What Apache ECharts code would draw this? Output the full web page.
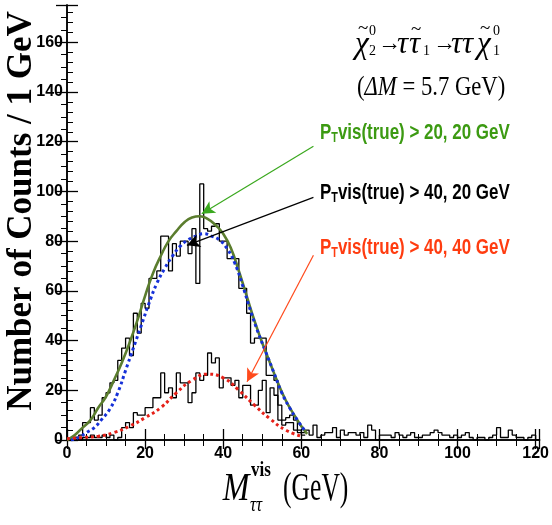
<!DOCTYPE html>
<html><head><meta charset="utf-8">
<script src="https://cdn.jsdelivr.net/npm/echarts@6/dist/echarts.min.js"></script>
<style>html,body{margin:0;padding:0;background:#fff}#c{width:552px;height:525px}</style>
</head><body><div id="c"></div>
<script>
// Bin values (1 GeV bins starting at 0 GeV)
const histUpper = [0,0,1,2,7,7,13,8,10,17,19,23,24,32,37,41,34,51,43,55,53,65,65,68,82,82,68,79,74,80,80,75,85,63,103,85,84,86,87,80,80,73,73,73,61,61,51,39,41,41,41,26,26,24,14,8,9,10,8,4,3,
  4,2,6,1,2,3,3,5,1,4,2,3,3,2,3,1,6,4,0,2,2,2,1,3,2,1,2,3,1,1,2,2,3,4,3,2,2,1,2,1,2,3,1,0,1,1,0,1,2,5,1,1,4,2,1,1,0,1,2,0];
const histLower = [0,1,1,0,1,1,2,1,1,2,1,2,0,1,5,7,5,11,10,10,13,13,17,17,27,19,21,17,27,23,23,15,19,27,24,26,35,31,33,21,25,25,22,24,17,22,22,14,14,20,24,11,21,18,8,6,7,7,4,3,2];
// Fit curves: [x, y]
const curveGreen = [[0,0],[2,2],[4,5],[6,8],[8,13],[10,17.5],[12,24],[14,31],[16,39],[18,48],[20,58],[22,67],[24,74],[26,80],[28,84],[30,87.5],[32,89.5],[34,90],[36,89],[38,86.5],[40,83],[42,77],[44,68],[46,58],[48,48],[50,39],[52,31],[54,23],[56,16],[58,10.5],[60,5.5],[61.5,2.5]];
const curveBlue = [[1,0],[3,1],[5,3],[7,5],[9,8.5],[11,12.5],[13,19],[15,28],[17,37],[19,46],[21,55],[23,63],[25,69],[27,74],[29,78],[31,80.5],[33,82],[35,83],[37,82],[39,80.5],[41,77],[43,71],[45,62],[47,52],[49,43],[51,35],[53,27],[55,19],[57,13],[59,8],[61,3.5]];
const curveRed = [[0,0.5],[4,1],[8,1.5],[12,3],[16,5.5],[20,9],[24,13],[28,19],[32,24],[36,26.5],[40,25],[44,20],[48,14],[52,8.5],[56,4],[60,1.5]];
const xTicks = [0,20,40,60,80,100,120];
const yTicks = [0,20,40,60,80,100,120,140,160];
// Annotation arrows: [start, end] in data coordinates
const arrowGreen = [[63.1,118.2],[34.5,91]];
const arrowBlack = [[63.1,97.6],[30.7,78.3]];
const arrowRed = [[63.1,74.3],[46.1,23.4]];
const labels = ['20, 20 GeV','40, 20 GeV','40, 40 GeV'];

function stepData(h){ const d = h.map((v,i)=>[i,v]); d.push([h.length, h[h.length-1]]); return d; }

const chart = echarts.init(document.getElementById('c'));
const sans = "'Liberation Sans',Arial,sans-serif";
const serif = "'Liberation Serif','DejaVu Serif',serif";
const axisCommon = {
  min:0, axisLine:{show:true, lineStyle:{color:'#000', width:1.5}},
  splitLine:{show:false},
  axisTick:{inside:true, length:11, lineStyle:{color:'#000', width:1.3}},
  minorTick:{show:true, length:6, lineStyle:{color:'#000', width:1}}
};
function arrowLine(a,color){
  const ls = {color:color, width:1.2, type:'solid'};
  return [{coord:a[0], lineStyle:ls, itemStyle:{color:color}}, {coord:a[1], lineStyle:ls, itemStyle:{color:color}}];
}
function t(x,y,text,font,extra){ return Object.assign({type:'text', x:x, y:y, style:{text:text, font:font, fill:'#000', textVerticalAlign:'middle'}}, extra||{}); }
function sel(y,label,color){
  return {type:'text', x:320, y:y, scaleX:0.77, style:{text:'{p|P}{s|T}{p|vis(true) > '+label+'}', textVerticalAlign:'middle',
    rich:{p:{fontFamily:sans, fontWeight:'bold', fontSize:22, fill:color}, s:{fontFamily:sans, fontWeight:'bold', fontSize:14, fill:color, padding:[11,0,0,0]}}}};
}
chart.setOption({
  animation:false,
  grid:{left:67, right:11, top:5, bottom:85},
  xAxis:[
    Object.assign({}, axisCommon, {type:'value', max:121, interval:20, minorTick:Object.assign({}, axisCommon.minorTick, {splitNumber:4}),
      axisLabel:{show:true, showMaxLabel:false, margin:6, color:'#000', fontFamily:sans, fontWeight:'bold', fontSize:16,
        formatter:v=> xTicks.indexOf(v)>=0 ? String(v) : ''}}),
    Object.assign({}, axisCommon, {type:'value', position:'top', max:121, interval:20, minorTick:Object.assign({}, axisCommon.minorTick, {splitNumber:4}), axisTick:{inside:true,length:9,lineStyle:{color:'#000',width:1.3}}, axisLabel:{show:false}})
  ],
  yAxis:[
    Object.assign({}, axisCommon, {type:'value', max:175, interval:20, minorTick:Object.assign({}, axisCommon.minorTick, {splitNumber:5}),
      axisLabel:{show:true, showMaxLabel:false, margin:4, color:'#000', fontFamily:sans, fontWeight:'bold', fontSize:16,
        formatter:v=> yTicks.indexOf(v)>=0 ? String(v) : ''}}),
    Object.assign({}, axisCommon, {type:'value', position:'right', max:175, interval:20, minorTick:Object.assign({}, axisCommon.minorTick, {splitNumber:4}), axisLabel:{show:false}})
  ],
  series:[
    {type:'line', step:'end', data:stepData(histUpper), symbol:'none', lineStyle:{color:'#000', width:1.3}, z:2},
    {type:'line', step:'end', data:stepData(histLower), symbol:'none', lineStyle:{color:'#000', width:1.3}, z:2},
    {type:'line', smooth:true, data:curveGreen, symbol:'none', lineStyle:{color:'#5b7d2e', width:2.6}, z:3},
    {type:'line', smooth:true, data:curveBlue, symbol:'none', lineStyle:{color:'#1530d8', width:3, type:[3,3]}, z:4},
    {type:'line', smooth:true, data:curveRed, symbol:'none', lineStyle:{color:'#e52018', width:3, type:[3,3]}, z:4,
      markLine:{silent:true, symbol:['none','arrow'], symbolSize:[10,13], label:{show:false}, animation:false,
        data:[arrowLine(arrowGreen,'#3aa81e'), arrowLine(arrowBlack,'#000'), arrowLine(arrowRed,'#ff4a1c')]}}
  ],
  graphic:[
    t(22,211,'',"",{rotation:Math.PI/2, style:{text:'Number of Counts / 1 GeV', font:"bold 35px "+serif, fill:'#000', textAlign:'center', textVerticalAlign:'middle'}}),
    // x axis title
    t(236,489,'',"",{scaleX:0.8, style:{text:'M', font:"italic 40px "+serif, fill:'#000', textAlign:'center', textVerticalAlign:'middle'}}),
    t(251,471,'vis',"bold 20px "+serif,{scaleX:0.85}),
    t(250,506,'ττ',"italic 20px "+serif,{scaleX:0.85}),
    t(283,489,'(GeV)',"40px "+serif,{scaleX:0.64}),
    // process formula
    t(355,45,'χ',"italic 31px "+serif),
    t(358,29,'~',"19px "+serif),
    t(369,31,'0',"14px "+serif),
    t(369,51,'2',"14px "+serif),
    t(378,44,'→',"23px "+serif),
    t(397,45,'τ',"italic 31px "+serif),
    t(409,45,'τ',"italic 31px "+serif),
    t(411,30,'~',"19px "+serif),
    t(423,51,'1',"14px "+serif),
    t(433,44,'→',"23px "+serif),
    t(451,45,'ττ',"italic 31px "+serif),
    t(477,45,'χ',"italic 31px "+serif),
    t(480,29,'~',"19px "+serif),
    t(493,31,'0',"14px "+serif),
    t(493,51,'1',"14px "+serif),
    {type:'text', x:357, y:88, scaleX:0.84, style:{text:'{u|(}{i|ΔM}{u| = 5.7 GeV)}', textVerticalAlign:'middle',
      rich:{u:{fontFamily:serif, fontSize:27, fill:'#000'}, i:{fontFamily:serif, fontSize:27, fontStyle:'italic', fill:'#000'}}}},
    // selection labels
    sel(133,labels[0],'#3c9a12'),
    sel(193,labels[1],'#000'),
    sel(248,labels[2],'#ff3c10')
  ]
});
</script></body></html>
